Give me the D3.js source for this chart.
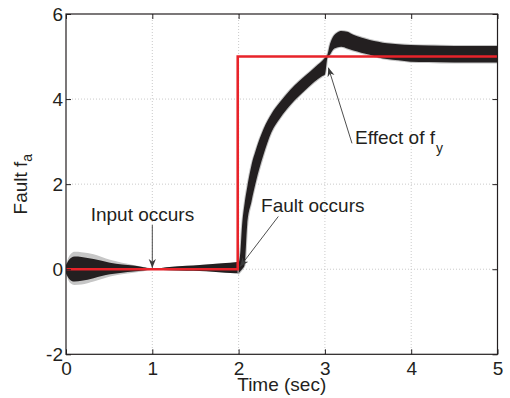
<!DOCTYPE html>
<html>
<head>
<meta charset="utf-8">
<script src="https://cdn.jsdelivr.net/npm/d3@7/dist/d3.min.js"></script>
<style>
  html, body { margin: 0; padding: 0; background: #fff; }
  svg { display: block; }
  text { font-family: "Liberation Sans", Arial, Helvetica, sans-serif; fill: #231f20; }
</style>
</head>
<body>
<svg id="chart" width="510" height="398"></svg>
<script>
// ---------------- data ----------------
const xTicks = [0, 1, 2, 3, 4, 5];
const yTicks = [-2, 0, 2, 4, 6];
const xGrid = [1, 2, 3, 4];
const yGrid = [0, 2, 4];

// Segment 1: bundle of estimates before the fault (t = 0 .. 2)
const wedgeTime  = [0, 0.03, 0.06, 0.10, 0.18, 0.32, 0.51, 0.65, 0.78, 0.90, 0.98, 1.05, 1.20, 1.40, 1.55, 1.70, 1.85, 1.96, 2.00];
const wedgeUpper = [0.10, 0.21, 0.27, 0.30, 0.29, 0.24, 0.155, 0.11, 0.085, 0.045, 0.02, 0.02, 0.05, 0.08, 0.10, 0.12, 0.145, 0.165, 0.17];
const wedgeLower = [-0.10, -0.21, -0.27, -0.29, -0.27, -0.21, -0.12, -0.085, -0.055, -0.03, -0.015, -0.015, -0.025, -0.035, -0.04, -0.06, -0.08, -0.095, -0.10];
const wedgeGrayUpper = [0.10, 0.28, 0.37, 0.41, 0.40, 0.35, 0.22, 0.15, 0.10, 0.05, 0.025, 0.02, 0.05, 0.08, 0.10, 0.12, 0.145, 0.165, 0.17];
const wedgeGrayLower = [-0.10, -0.27, -0.34, -0.37, -0.36, -0.29, -0.17, -0.12, -0.08, -0.045, -0.02, -0.015, -0.025, -0.035, -0.04, -0.06, -0.08, -0.095, -0.10];

// Segment 2: response after the fault (t = 2 .. 5)
const riseTime  = [2.00, 2.02, 2.04, 2.07, 2.10, 2.15, 2.20, 2.29, 2.38, 2.48, 2.60, 2.70, 2.83, 2.92, 2.97, 3.00, 3.03, 3.06, 3.09, 3.14, 3.19, 3.26, 3.33, 3.42, 3.52, 3.62, 3.72, 3.85, 3.99, 4.20, 4.50, 4.80, 5.00];
const riseUpper = [0.12, 0.40, 1.02, 1.55, 1.93, 2.45, 2.80, 3.30, 3.65, 3.93, 4.22, 4.42, 4.65, 4.81, 4.90, 4.97, 5.05, 5.30, 5.45, 5.56, 5.60, 5.58, 5.51, 5.45, 5.39, 5.35, 5.31, 5.29, 5.27, 5.26, 5.25, 5.25, 5.25];
const riseLower = [-0.10, -0.05, 0.00, 0.10, 1.05, 1.60, 2.05, 2.70, 3.22, 3.55, 3.86, 4.07, 4.32, 4.47, 4.54, 4.58, 4.98, 5.05, 5.15, 5.21, 5.23, 5.19, 5.14, 5.09, 5.04, 4.98, 4.94, 4.91, 4.88, 4.87, 4.86, 4.86, 4.86];

// Actual fault (red)
const faultTime  = [0, 1.99, 1.99, 5];
const faultValue = [0, 0, 5, 5];

// Annotations: text anchor and arrow tail -> tip, in data units
const annoLabels = ["Input occurs", "Fault occurs", "Effect of f"];
const annoSubs   = ["", "", "y"];
const annoTextT  = [0.286, 2.26, 3.35];
const annoTextV  = [1.14, 1.34, 2.945];
const arrowTailT = [1.0, 2.46, 3.314];
const arrowTailV = [1.04, 1.24, 2.96];
const arrowTipT  = [1.0, 2.016, 3.04];
const arrowTipV  = [0.03, 0.06, 4.74];

// ---------------- layout ----------------
const W = 510, H = 398;
const margin = { left: 66, top: 14, right: 12.5, bottom: 43.7 };
const iw = W - margin.left - margin.right;
const ih = H - margin.top - margin.bottom;

const svg = d3.select("#chart");
const g = svg.append("g").attr("transform", `translate(${margin.left},${margin.top})`);

const x = d3.scaleLinear().domain([0, 5]).range([0, iw]);
const y = d3.scaleLinear().domain([-2, 6]).range([ih, 0]);

svg.append("defs").append("clipPath").attr("id", "clip")
  .append("rect").attr("width", iw).attr("height", ih);

// grid
const grid = g.append("g").attr("stroke", "#c4c4c4").attr("stroke-width", 0.9).attr("stroke-dasharray", "1,2");
grid.selectAll(".gx").data(xGrid).join("line")
  .attr("x1", d => x(d)).attr("x2", d => x(d)).attr("y1", 0).attr("y2", ih);
grid.selectAll(".gy").data(yGrid).join("line")
  .attr("y1", d => y(d)).attr("y2", d => y(d)).attr("x1", 0).attr("x2", iw);

const plot = g.append("g").attr("clip-path", "url(#clip)");

// segment 1
const wedgeGray = wedgeTime.map((t, i) => ({ t, u: wedgeGrayUpper[i], l: wedgeGrayLower[i] }));
const wedgeBlack = wedgeTime.map((t, i) => ({ t, u: wedgeUpper[i], l: wedgeLower[i] }));
const area = d3.area().x(d => x(d.t)).y0(d => y(d.l)).y1(d => y(d.u)).curve(d3.curveMonotoneX);

plot.append("path").datum(wedgeGray).attr("d", area).attr("fill", "#c6c6c6");
plot.append("path").datum(wedgeBlack).attr("d", area).attr("fill", "#231f20");

// segment 2 (thin light-gray halo, then the dark bundle)
const rise = riseTime.map((t, i) => ({ t, u: riseUpper[i], l: riseLower[i] }));
plot.append("path").datum(rise).attr("d", area)
  .attr("fill", "#231f20").attr("stroke", "#c4c4c4").attr("stroke-width", 2).attr("stroke-linejoin", "round");
plot.append("path").datum(rise).attr("d", area).attr("fill", "#231f20");

// red fault line
const fault = faultTime.map((t, i) => ({ t, v: faultValue[i] }));
plot.append("path").datum(fault)
  .attr("d", d3.line().x(d => x(d.t)).y(d => y(d.v)))
  .attr("fill", "none").attr("stroke", "#e8232a").attr("stroke-width", 2.6);

// axes (ticks inward on all four sides)
const fontSize = 19;
const fmt = d => String(d);
function styleAxis(sel) {
  sel.select(".domain").remove();
  sel.selectAll(".tick line").attr("stroke", "#231f20").attr("stroke-width", 1);
  sel.selectAll("text").attr("font-size", fontSize)
    .attr("font-family", '"Liberation Sans", Arial, sans-serif').attr("fill", "#231f20");
  sel.attr("font-family", null).attr("font-size", null);
}
g.append("g").attr("transform", `translate(0,${ih})`)
  .call(d3.axisBottom(x).tickValues(xTicks).tickSizeInner(-5).tickSizeOuter(0).tickPadding(7).tickFormat(fmt))
  .call(styleAxis);
g.append("g")
  .call(d3.axisTop(x).tickValues(xTicks).tickSizeInner(-5).tickSizeOuter(0).tickFormat(""))
  .call(styleAxis);
g.append("g")
  .call(d3.axisLeft(y).tickValues(yTicks).tickSizeInner(-5).tickSizeOuter(0).tickPadding(3).tickFormat(fmt))
  .call(styleAxis);
g.append("g").attr("transform", `translate(${iw},0)`)
  .call(d3.axisRight(y).tickValues(yTicks).tickSizeInner(-5).tickSizeOuter(0).tickFormat(""))
  .call(styleAxis);

// frame
g.append("rect").attr("width", iw).attr("height", ih)
  .attr("fill", "none").attr("stroke", "#231f20").attr("stroke-width", 1.2);

// axis labels
svg.append("text")
  .attr("x", margin.left + iw / 2).attr("y", 390.5)
  .attr("text-anchor", "middle").attr("font-size", fontSize).text("Time (sec)");

const yl = svg.append("text")
  .attr("transform", `translate(27,${margin.top + ih / 2}) rotate(-90)`)
  .attr("text-anchor", "middle").attr("font-size", fontSize);
yl.append("tspan").text("Fault f");
yl.append("tspan").attr("dy", 5).attr("font-size", 14).text("a");

// annotations
const marker = svg.append("defs").append("marker")
  .attr("id", "arrowhead").attr("viewBox", "0 0 10 10")
  .attr("refX", 10).attr("refY", 5)
  .attr("markerWidth", 9).attr("markerHeight", 9)
  .attr("markerUnits", "userSpaceOnUse")
  .attr("orient", "auto");
marker.append("path").attr("d", "M0,1 L10,5 L0,9 L3,5 Z").attr("fill", "#3a3a3a");

annoLabels.forEach((label, i) => {
  g.append("line")
    .attr("x1", x(arrowTailT[i])).attr("y1", y(arrowTailV[i]))
    .attr("x2", x(arrowTipT[i])).attr("y2", y(arrowTipV[i]))
    .attr("stroke", "#3a3a3a").attr("stroke-width", 0.9)
    .attr("marker-end", "url(#arrowhead)");
  const t = g.append("text")
    .attr("x", x(annoTextT[i])).attr("y", y(annoTextV[i]))
    .attr("font-size", fontSize);
  t.append("tspan").text(label);
  if (annoSubs[i]) t.append("tspan").attr("dx", 1).attr("dy", 9).attr("font-size", 14).text(annoSubs[i]);
});
</script>
</body>
</html>
